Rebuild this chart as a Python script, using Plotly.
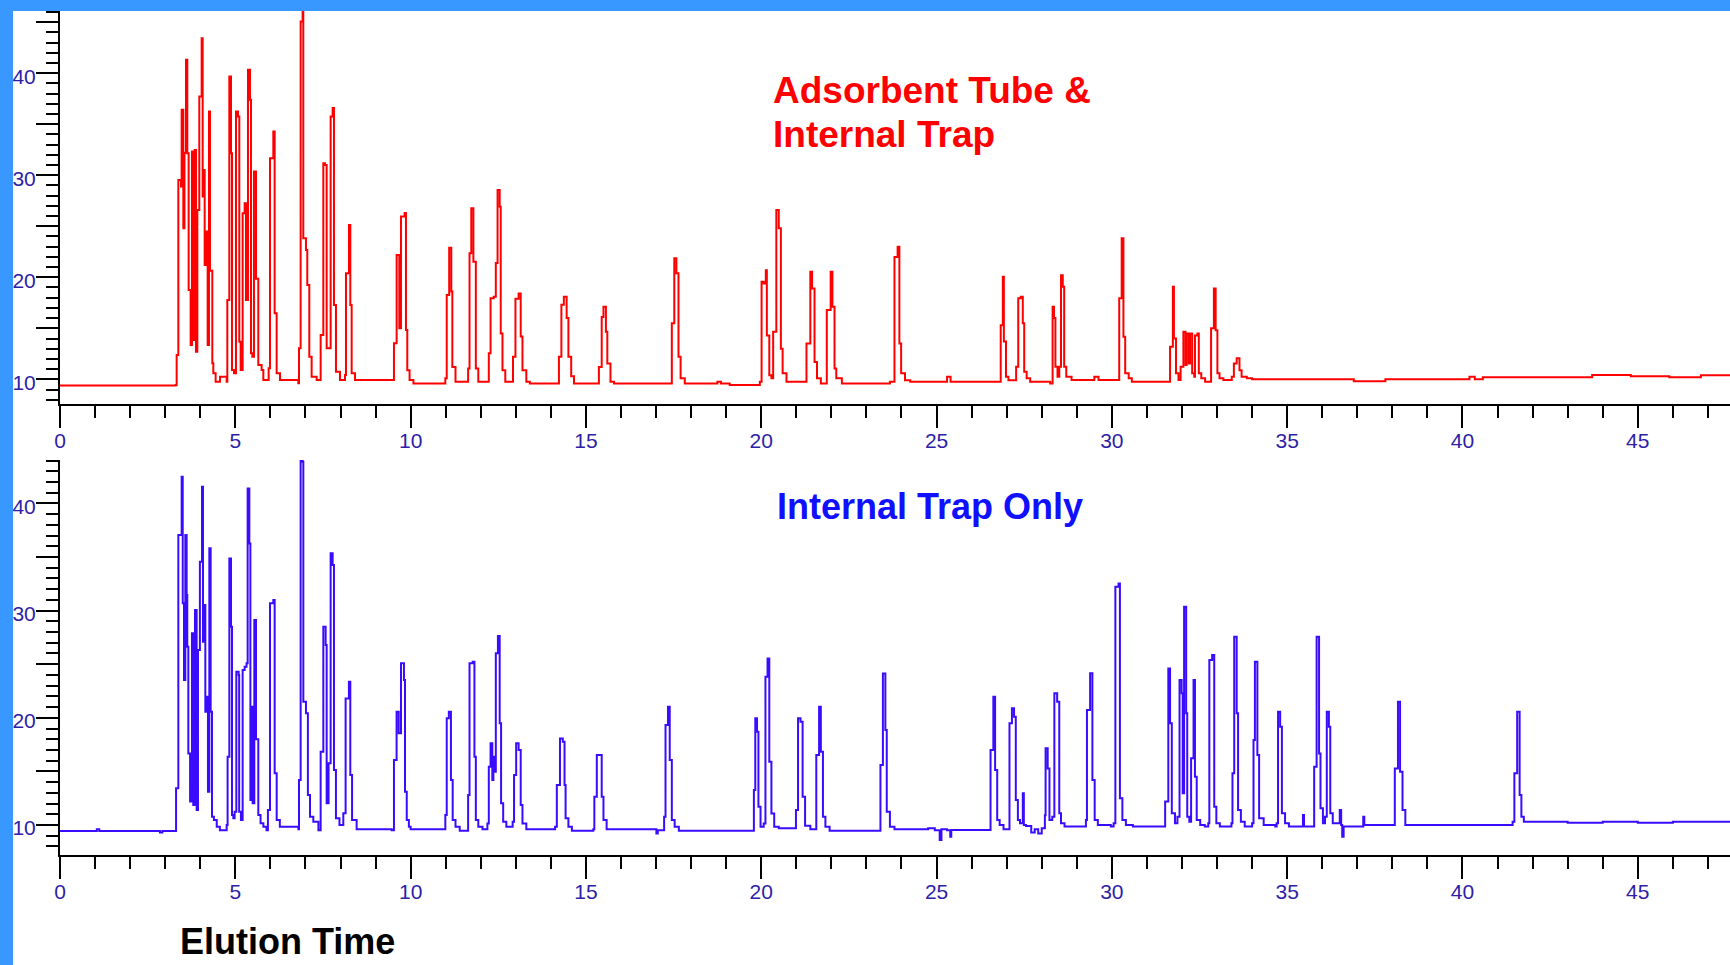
import plotly.graph_objects as go

# ---------------- data ----------------
top_time = [0.0, 3.30, 3.327, 3.375, 3.451, 3.470, 3.517, 3.550, 3.593, 3.631, 3.669, 3.726, 3.764,
            3.802, 3.840, 3.878, 3.917, 3.973, 4.040, 4.069, 4.107, 4.126, 4.183, 4.211, 4.249,
            4.278, 4.344, 4.373, 4.439, 4.563, 4.753, 4.772, 4.829, 4.877, 4.905, 4.962, 5.019,
            5.076, 5.114, 5.152, 5.209, 5.266, 5.304, 5.361, 5.418, 5.447, 5.485, 5.532, 5.590,
            5.656, 5.751, 5.799, 5.951, 5.989, 6.084, 6.122, 6.179, 6.274, 6.797, 6.816, 6.863,
            6.920, 6.939, 7.015, 7.053, 7.110, 7.177, 7.320, 7.434, 7.510, 7.557, 7.605, 7.719,
            7.776, 7.814, 7.871, 7.985, 8.128, 8.156, 8.242, 8.280, 8.318, 8.413, 9.525, 9.601,
            9.677, 9.725, 9.829, 9.867, 9.905, 9.97, 10.08, 10.99, 11.03, 11.10, 11.16, 11.19,
            11.28, 11.64, 11.68, 11.73, 11.79, 11.86, 11.93, 12.23, 12.28, 12.37, 12.43, 12.48,
            12.54, 12.57, 12.62, 12.70, 12.92, 12.99, 13.08, 13.14, 13.19, 13.30, 13.40, 14.23,
            14.30, 14.37, 14.45, 14.50, 14.58, 14.66, 15.37, 15.45, 15.50, 15.57, 15.61, 15.70,
            15.80, 17.45, 17.52, 17.58, 17.64, 17.70, 17.82, 18.75, 18.85, 19.10, 19.96, 20.01,
            20.07, 20.13, 20.16, 20.23, 20.29, 20.34, 20.43, 20.50, 20.56, 20.61, 20.72, 21.29,
            21.40, 21.45, 21.52, 21.59, 21.70, 21.87, 21.98, 22.03, 22.09, 22.14, 22.30, 23.67,
            23.80, 23.89, 23.94, 23.99, 24.10, 24.25, 25.30, 25.40, 26.83, 26.89, 26.92, 26.98,
            27.05, 27.27, 27.33, 27.40, 27.46, 27.50, 27.57, 27.67, 28.24, 28.31, 28.35, 28.39,
            28.45, 28.50, 28.55, 28.60, 28.64, 28.70, 28.85, 29.50, 29.62, 30.21, 30.28, 30.33,
            30.38, 30.48, 30.57, 31.66, 31.74, 31.77, 31.83, 31.90, 31.96, 32.04, 32.10, 32.13,
            32.19, 32.23, 32.29, 32.35, 32.37, 32.44, 32.48, 32.55, 32.66, 32.83, 32.91, 32.96,
            33.01, 33.07, 33.18, 33.42, 33.48, 33.56, 33.64, 33.70, 33.85, 34.0, 36.9, 37.8,
            40.2, 40.35, 40.58, 43.7, 44.8, 45.9, 46.8, 47.7]
top_signal = [9.40, 9.45, 12.39, 29.54, 28.89, 36.41, 24.80, 32.2, 41.31, 32.16, 18.76, 13.37, 32.32,
              13.86, 32.48, 12.71, 26.60, 37.71, 43.43, 27.91, 30.52, 21.21, 24.48, 13.37, 36.24,
              20.65, 11.57, 10.59, 9.77, 10.26, 9.77, 17.78, 39.67, 32.16, 10.92, 10.59, 36.24,
              35.75, 13.69, 10.92, 26.27, 27.26, 17.78, 40.33, 37.39, 12.55, 12.22, 30.36, 19.85,
              11.41, 10.92, 9.94, 11.08, 31.67, 34.28, 16.47, 10.59, 9.94, 9.61, 13.04, 45.07,
              47.5, 23.82, 22.68, 19.25, 12.22, 10.26, 9.94, 14.35, 31.18, 31.01, 13.04, 35.75,
              36.6, 17.29, 10.75, 9.94, 10.43, 20.39, 25.13, 17.29, 10.59, 9.94, 13.53, 22.19,
              15.00, 25.95, 26.3, 14.84, 10.9, 9.93, 9.6, 10.1, 18.26, 22.9, 18.6, 11.2,
              9.75, 11.07, 22.35, 26.76, 21.53, 11.07, 9.75, 12.55, 17.94, 18.1, 21.4, 28.56,
              26.92, 14.5, 10.9, 9.75, 12.2, 17.9, 18.4, 14.2, 10.9, 9.75, 9.6, 12.2,
              17.3, 18.1, 16.0, 12.2, 10.3, 9.6, 11.2, 16.1, 17.1, 14.67, 11.56, 9.75,
              9.6, 15.5, 21.86, 20.39, 12.2, 10.1, 9.6, 9.75, 9.6, 9.45, 9.75, 19.57,
              19.4, 20.7, 14.3, 10.4, 10.1, 14.67, 26.6, 24.8, 13.0, 10.6, 9.75, 13.5,
              20.55, 18.9, 11.7, 10.1, 9.6, 16.8, 20.55, 17.1, 11.07, 10.1, 9.6, 9.75,
              22.0, 23.0, 13.5, 10.6, 9.9, 9.75, 10.26, 9.75, 15.3, 20.06, 13.7, 10.26,
              9.9, 11.24, 17.94, 18.1, 15.5, 10.75, 10.1, 9.75, 9.6, 17.1, 16.0, 11.24,
              10.26, 11.24, 20.2, 19.08, 11.24, 10.26, 9.94, 10.26, 9.94, 17.94, 23.82, 14.18,
              10.6, 10.1, 9.75, 13.2, 19.08, 14.0, 10.6, 9.94, 11.24, 14.67, 11.4, 14.5,
              11.56, 14.5, 10.6, 10.26, 14.3, 14.5, 10.6, 10.1, 9.75, 15.0, 18.9, 14.8,
              10.6, 10.1, 9.94, 10.26, 11.56, 12.06, 10.9, 10.26, 10.1, 10.0, 9.8, 10.0,
              10.26, 10.0, 10.2, 10.42, 10.3, 10.2, 10.4, 10.4]

bottom_time = [0.0, 1.05, 1.12, 2.85, 2.92, 3.31, 3.375, 3.47, 3.50, 3.536, 3.574, 3.612, 3.63,
               3.66, 3.71, 3.764, 3.80, 3.85, 3.897, 3.935, 3.99, 4.05, 4.078, 4.107, 4.145,
               4.20, 4.22, 4.259, 4.297, 4.335, 4.39, 4.47, 4.56, 4.753, 4.78, 4.83, 4.877,
               4.905, 4.943, 4.98, 5.029, 5.095, 5.11, 5.16, 5.209, 5.266, 5.32, 5.352, 5.40,
               5.43, 5.456, 5.494, 5.542, 5.59, 5.656, 5.72, 5.80, 5.89, 5.93, 5.989, 6.084,
               6.122, 6.18, 6.27, 6.80, 6.816, 6.863, 6.92, 6.94, 7.015, 7.07, 7.13, 7.225,
               7.37, 7.434, 7.51, 7.576, 7.605, 7.66, 7.719, 7.776, 7.814, 7.87, 7.97, 8.08,
               8.146, 8.24, 8.28, 8.33, 8.46, 9.46, 9.525, 9.60, 9.66, 9.725, 9.81, 9.84,
               9.89, 9.95, 10.0, 10.99, 11.03, 11.09, 11.15, 11.2, 11.28, 11.40, 11.64, 11.68,
               11.77, 11.82, 11.86, 11.93, 12.05, 12.19, 12.23, 12.28, 12.33, 12.36, 12.40, 12.43,
               12.49, 12.54, 12.58, 12.64, 12.73, 12.91, 12.95, 13.01, 13.08, 13.14, 13.19, 13.30,
               14.12, 14.17, 14.26, 14.34, 14.39, 14.42, 14.50, 14.60, 15.21, 15.24, 15.31, 15.45,
               15.50, 15.59, 17.01, 17.05, 17.23, 17.27, 17.34, 17.39, 17.45, 17.53, 17.65, 19.79,
               19.83, 19.88, 19.92, 19.98, 20.07, 20.12, 20.18, 20.23, 20.29, 20.37, 20.50, 20.99,
               21.05, 21.12, 21.18, 21.25, 21.40, 21.57, 21.65, 21.70, 21.76, 21.83, 21.95, 23.40,
               23.47, 23.54, 23.58, 23.67, 23.80, 24.76, 24.95, 25.09, 25.14, 25.30, 25.39, 25.42,
               26.54, 26.62, 26.67, 26.73, 26.80, 26.91, 27.08, 27.15, 27.21, 27.26, 27.32, 27.38,
               27.46, 27.49, 27.55, 27.70, 27.80, 27.90, 28.00, 28.09, 28.11, 28.17, 28.22, 28.30,
               28.36, 28.44, 28.50, 28.55, 28.65, 29.26, 29.29, 29.38, 29.445, 29.51, 29.60, 29.97,
               30.05, 30.10, 30.19, 30.23, 30.30, 30.40, 30.60, 31.52, 31.61, 31.66, 31.71, 31.80,
               31.87, 31.93, 31.99, 32.02, 32.06, 32.12, 32.15, 32.21, 32.26, 32.33, 32.37, 32.42,
               32.52, 32.65, 32.75, 32.78, 32.86, 32.92, 32.98, 33.08, 33.41, 33.44, 33.49, 33.56,
               33.60, 33.68, 33.79, 34.0, 34.04, 34.08, 34.15, 34.20, 34.33, 34.66, 34.70, 34.74,
               34.80, 34.85, 34.94, 35.05, 35.45, 35.48, 35.77, 35.84, 35.91, 35.95, 36.02, 36.08,
               36.13, 36.19, 36.23, 36.30, 36.50, 36.54, 36.57, 36.61, 37.17, 37.20, 38.07, 38.16,
               38.22, 38.29, 38.37, 41.43, 41.48, 41.56, 41.63, 41.68, 41.75, 42.4, 43.0, 44.0,
               45.0, 46.0, 47.7]
bottom_signal = [9.44, 9.6, 9.44, 9.3, 9.44, 13.42, 37.05, 42.49, 30.68, 23.52, 37.05, 31.45, 26.63,
                 16.68, 12.18, 27.88, 11.86, 30.05, 11.40, 26.32, 34.56, 41.56, 27.1, 30.52, 20.57,
                 21.97, 13.11, 35.81, 20.57, 10.78, 10.46, 9.84, 9.5, 10.0, 16.37, 34.87, 28.5,
                 10.93, 10.62, 11.24, 24.3, 23.99, 11.24, 10.46, 24.46, 24.77, 25.08, 41.4, 36.27,
                 12.33, 21.04, 12.02, 29.12, 18.0, 10.93, 10.16, 9.84, 9.5, 11.4, 30.68, 30.99,
                 14.82, 10.46, 9.84, 9.6, 14.2, 44.36, 43.89, 21.5, 20.42, 12.8, 10.78, 10.31,
                 9.5, 16.84, 28.5, 26.79, 12.02, 15.75, 35.34, 34.25, 15.13, 10.62, 10.0, 11.09,
                 21.8, 23.37, 14.66, 10.46, 9.6, 9.5, 16.06, 20.57, 18.55, 25.08, 23.52, 13.1,
                 10.46, 9.84, 9.6, 10.93, 19.95, 20.57, 14.2, 10.46, 9.84, 9.47, 12.8, 25.08,
                 25.23, 16.37, 10.46, 9.84, 9.6, 10.15, 15.44, 17.62, 14.2, 16.37, 14.97, 26.01,
                 27.63, 19.48, 12.02, 10.31, 9.84, 10.31, 14.66, 17.62, 17.0, 11.86, 10.15, 9.6,
                 9.84, 13.73, 18.08, 17.77, 13.73, 10.62, 9.84, 9.47, 9.6, 12.64, 16.53, 12.64,
                 10.46, 9.6, 9.2, 9.5, 10.77, 19.33, 21.04, 16.06, 10.46, 9.84, 9.47, 13.26,
                 19.95, 18.7, 11.71, 9.84, 10.15, 23.83, 25.54, 15.9, 11.08, 9.84, 9.7, 11.4,
                 19.95, 19.64, 12.64, 9.94, 9.6, 16.53, 21.04, 16.84, 10.77, 9.84, 9.47, 15.6,
                 24.14, 18.86, 11.24, 9.84, 9.6, 9.7, 9.5, 8.6, 9.6, 9.5, 8.9, 9.53,
                 17.0, 21.97, 15.13, 10.47, 10.0, 9.6, 19.48, 20.88, 20.1, 12.33, 10.47, 10.16,
                 12.95, 10.0, 9.9, 9.3, 9.6, 9.2, 9.7, 10.9, 17.15, 15.28, 10.47, 10.78,
                 22.28, 21.5, 11.09, 10.16, 9.85, 10.47, 20.73, 24.15, 14.2, 10.47, 10.0, 9.85,
                 10.16, 32.23, 32.54, 12.49, 10.47, 10.0, 9.85, 12.18, 24.61, 19.48, 11.09, 10.16,
                 10.78, 23.53, 22.28, 12.95, 30.37, 20.42, 10.78, 10.31, 16.22, 23.53, 14.51, 10.47,
                 10.0, 9.85, 10.16, 25.39, 25.86, 11.71, 10.16, 9.85, 10.16, 14.82, 27.57, 20.42,
                 11.4, 10.31, 9.85, 10.16, 17.93, 25.24, 16.53, 10.62, 10.0, 9.85, 10.16, 20.57,
                 19.17, 11.09, 10.16, 9.85, 10.94, 9.85, 15.44, 27.57, 16.68, 11.56, 10.16, 10.78,
                 20.57, 19.17, 11.09, 10.16, 11.4, 10.0, 8.9, 9.85, 10.78, 10.0, 15.28, 21.5,
                 14.97, 11.4, 10.0, 10.31, 14.82, 20.57, 12.8, 10.78, 10.31, 10.31, 10.2, 10.3,
                 10.2, 10.3, 10.3]

x_tick_values = [0, 5, 10, 15, 20, 25, 30, 35, 40, 45]
x_tick_labels = ["0", "5", "10", "15", "20", "25", "30", "35", "40", "45"]
y_tick_values = [10, 15, 20, 25, 30, 35, 40, 45]
y_tick_labels = ["10", "", "20", "", "30", "", "40", ""]

W, H = 1730, 965
TICK_COLOR = "#2e1ea8"
BLUE_FRAME = "#3898ff"
FONT = "Liberation Sans, Arial, sans-serif"


def px_x(p):
    return p / W


def px_y(p):
    return 1 - p / H


fig = go.Figure()
fig.add_trace(go.Scatter(x=top_time, y=top_signal, mode="lines",
                         line=dict(color="#ff0000", width=2, shape="hv"),
                         xaxis="x", yaxis="y", hoverinfo="skip"))
fig.add_trace(go.Scatter(x=bottom_time, y=bottom_signal, mode="lines",
                         line=dict(color="#3a0cff", width=2, shape="hv"),
                         xaxis="x2", yaxis="y2", hoverinfo="skip"))

xdom = [px_x(60), 1.0]


def xaxis_cfg(anchor):
    return dict(domain=xdom, anchor=anchor, range=[0, 47.63], showgrid=False, zeroline=False,
                automargin=False, showline=True, linecolor="black", linewidth=2,
                tickmode="array", tickvals=x_tick_values, ticktext=x_tick_labels,
                ticks="outside", ticklen=22, tickwidth=2, tickcolor="black",
                ticklabelstandoff=-5,
                minor=dict(dtick=1, ticklen=12, tickwidth=2, tickcolor="black", ticks="outside"),
                tickfont=dict(family=FONT, size=21, color=TICK_COLOR))


def yaxis_cfg(anchor, dom, rng):
    return dict(domain=dom, anchor=anchor, range=rng, showgrid=False, zeroline=False,
                automargin=False, showline=True, linecolor="black", linewidth=2,
                tickmode="array", tickvals=y_tick_values, ticktext=y_tick_labels,
                ticks="outside", ticklen=22, tickwidth=2, tickcolor="black",
                ticklabelstandoff=-4, ticklabelshift=3,
                minor=dict(dtick=1, ticklen=12, tickwidth=2, tickcolor="black", ticks="outside"),
                tickfont=dict(family=FONT, size=21, color=TICK_COLOR))


fig.update_layout(
    width=W, height=H, margin=dict(l=0, r=0, t=0, b=0, pad=0, autoexpand=False),
    paper_bgcolor="white", plot_bgcolor="white", showlegend=False,
    xaxis=xaxis_cfg("y"),
    yaxis=yaxis_cfg("x", [px_y(404), px_y(11)], [7.58, 46.1]),
    xaxis2=xaxis_cfg("y2"),
    yaxis2=yaxis_cfg("x2", [px_y(855), px_y(460)], [7.2, 44.05]),
)

fig.add_annotation(text="<b>Adsorbent Tube &amp;</b>", xref="paper", yref="paper",
                   x=px_x(771), y=px_y(90), xanchor="left", yanchor="middle", showarrow=False,
                   font=dict(family=FONT, size=37, color="#ff0000"))
fig.add_annotation(text="<b>Internal Trap</b>", xref="paper", yref="paper",
                   x=px_x(771), y=px_y(134), xanchor="left", yanchor="middle", showarrow=False,
                   font=dict(family=FONT, size=37, color="#ff0000"))
fig.add_annotation(text="<b>Internal Trap Only</b>", xref="paper", yref="paper",
                   x=px_x(775), y=px_y(506), xanchor="left", yanchor="middle", showarrow=False,
                   font=dict(family=FONT, size=36, color="#1010ff"))
fig.add_annotation(text="<b>Elution Time</b>", xref="paper", yref="paper",
                   x=px_x(178), y=px_y(941), xanchor="left", yanchor="middle", showarrow=False,
                   font=dict(family=FONT, size=36, color="black"))

fig.add_shape(type="rect", xref="paper", yref="paper", x0=0, x1=1, y0=px_y(11), y1=1,
              fillcolor=BLUE_FRAME, line=dict(width=0), layer="above")
fig.add_shape(type="rect", xref="paper", yref="paper", x0=0, x1=px_x(13), y0=0, y1=1,
              fillcolor=BLUE_FRAME, line=dict(width=0), layer="above")

fig.write_html("out.html")
